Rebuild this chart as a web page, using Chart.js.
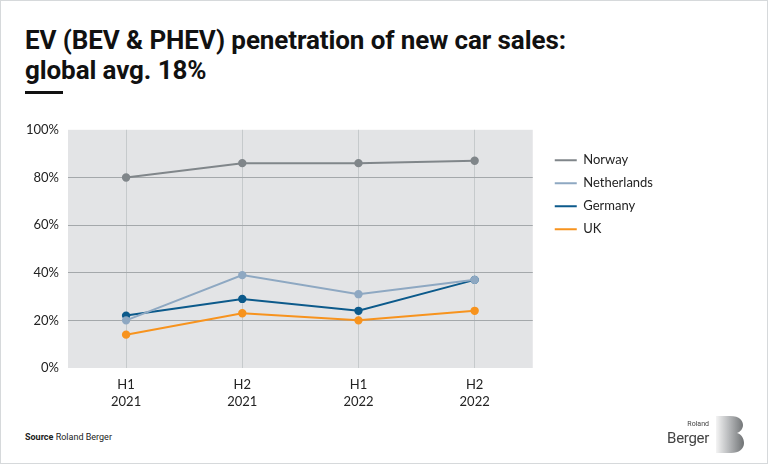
<!DOCTYPE html>
<html>
<head>
<meta charset="utf-8">
<script src="https://cdn.jsdelivr.net/npm/chart.js@4.4.0/dist/chart.umd.min.js"></script>
<style>
  html, body { margin: 0; padding: 0; background: #fff; }
  #page { position: relative; width: 766px; height: 462px; border: 1px solid #d6d9db; overflow: hidden; font-family: Roboto, "Noto Sans", sans-serif; }
  #title { position: absolute; left: 24px; top: 24px; font-weight: 700; font-size: 26px; line-height: 30px; color: #111; letter-spacing: -0.1px; }
  #bar { position: absolute; left: 24px; top: 90px; width: 38px; height: 3px; background: #111; }
  #wrap { position: absolute; left: 19px; top: 112px; width: 700px; height: 303px; }
  #source { position: absolute; left: 24px; top: 431px; font-size: 9px; color: #222; font-family: "Roboto", sans-serif; }
  #source b { font-weight: 700; }
  #logo { position: absolute; left: 650px; top: 414px; width: 96px; height: 40px; }
  #logo .r { position: absolute; right: 38px; top: 5px; font-size: 7px; color: #444; }
  #logo .b { position: absolute; right: 38px; top: 14px; font-size: 15px; color: #444; letter-spacing: -0.3px; }
  #logo svg { position: absolute; right: 3px; top: 1px; }
</style>
</head>
<body>
<div id="page">
  <div id="title">EV (BEV &amp; PHEV) penetration of new car sales:<br>global avg. 18%</div>
  <div id="bar"></div>
  <div id="wrap"><canvas id="mycanvas"></canvas></div>
  <div id="source"><b>Source</b> Roland Berger</div>
  <div id="logo">
    <span class="r">Roland</span>
    <span class="b">Berger</span>
    <svg width="28" height="37" viewBox="0 0 28 37">
      <defs>
        <linearGradient id="g" x1="0" x2="1" y1="0" y2="0">
          <stop offset="0" stop-color="#f4f4f4"/>
          <stop offset="0.45" stop-color="#b9bbbd"/>
          <stop offset="1" stop-color="#6f7274"/>
        </linearGradient>
      </defs>
      <path d="M0 0 H14 C24 0 27 5 27 9 C27 13 24 16 21 17 C25 18 28 22 28 27 C28 33 23 37 15 37 H0 Z" fill="url(#g)"/>
    </svg>
  </div>
</div>
<script>
var periods = [["H1", "2021"], ["H2", "2021"], ["H1", "2022"], ["H2", "2022"]];
var norway = [80, 86, 86, 87];
var netherlands = [20, 39, 31, 37];
var germany = [22, 29, 24, 37];
var uk = [14, 23, 20, 24];
var yTicks = [0, 20, 40, 60, 80, 100];

function series(label, data, color) {
  return {
    label: label,
    data: data,
    borderColor: color,
    backgroundColor: color,
    pointBackgroundColor: color,
    pointBorderColor: color,
    borderWidth: 2,
    pointRadius: 3.2,
    pointHoverRadius: 3.2,
    tension: 0
  };
}

// grey plot background
var plotBg = {
  id: 'plotBg',
  beforeDraw: function(chart) {
    var a = chart.chartArea, ctx = chart.ctx;
    ctx.save();
    ctx.fillStyle = '#e3e4e6';
    ctx.fillRect(a.left, a.top, a.right - a.left, a.bottom - a.top);
    ctx.restore();
  },
  afterLayout: function(chart) {
    // leave a gap between plot and legend
    chart.legend.left += 12;
    chart.legend.right += 12;
  }
};

var ctx = document.getElementById('mycanvas');
new Chart(ctx, {
  type: 'line',
  data: {
    labels: periods,
    datasets: [
      series('Norway', norway, '#80868a'),
      series('Netherlands', netherlands, '#8ea8c2'),
      series('Germany', germany, '#0c5a8b'),
      series('UK', uk, '#f7931e')
    ]
  },
  plugins: [plotBg],
  options: {
    responsive: true,
    maintainAspectRatio: false,
    animation: false,
    layout: { padding: { top: 0, right: 69, bottom: 0, left: 0 } },
    plugins: {
      tooltip: { enabled: false },
      legend: {
        position: 'right',
        align: 'start',
        title: { display: true, text: '', font: { size: 19 }, padding: { top: 8, bottom: 0 } },
        labels: {
          usePointStyle: true,
          pointStyle: 'line',
          pointStyleWidth: 22,
          padding: 10,
          color: '#222',
          font: { family: 'Lato, Roboto, sans-serif', size: 13 }
        }
      }
    },
    scales: {
      x: {
        offset: true,
        border: { display: false },
        grid: { color: '#c6cacc', drawTicks: false },
        ticks: { padding: 9, color: '#222', font: { family: 'Lato, Roboto, sans-serif', size: 13, lineHeight: 1.25 } },
        afterFit: function(scale) { scale.height = 48; }
      },
      y: {
        min: 0,
        max: 100,
        border: { display: false },
        afterBuildTicks: function(scale) { scale.ticks = yTicks.map(function(v) { return { value: v }; }); },
        grid: {
          drawTicks: false,
          color: function(c) {
            var v = c.tick ? c.tick.value : 0;
            if (v === 0 || v === 100) return 'rgba(0,0,0,0)';
            return '#a4a8ab';
          }
        },
        ticks: {
          padding: 9,
          color: '#222',
          font: { family: 'Lato, Roboto, sans-serif', size: 13 },
          callback: function(v) { return v + '%'; }
        },
        afterFit: function(scale) { scale.width = 48; }
      }
    }
  }
});
</script>
</body>
</html>
